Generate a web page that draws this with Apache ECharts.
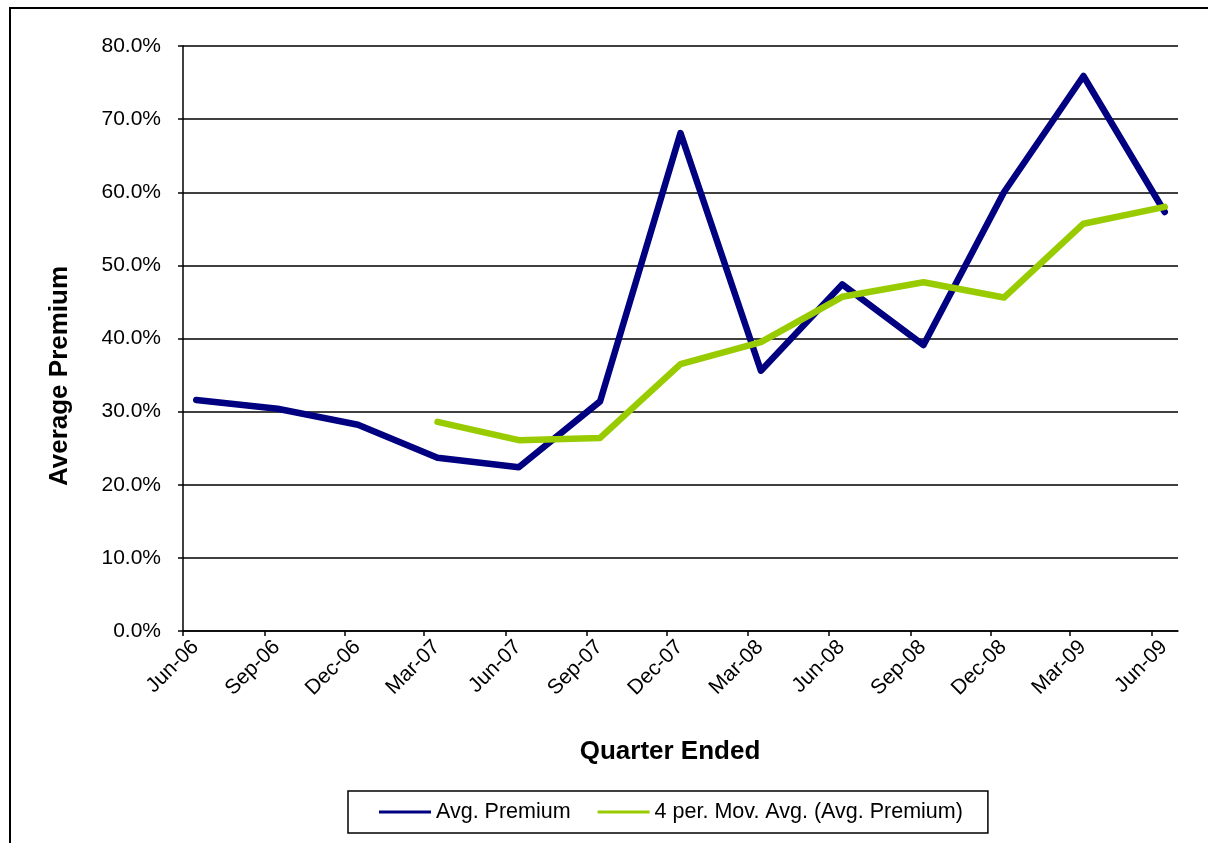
<!DOCTYPE html>
<html>
<head>
<meta charset="utf-8">
<script src="https://cdn.jsdelivr.net/npm/echarts@6/dist/echarts.min.js"></script>
<style>
html,body{margin:0;padding:0;background:#fff;}
#chart{width:1208px;height:843px;}
</style>
</head>
<body>
<div id="chart"></div>
<script>
// ---- data ----
var quarterLabels = ['Jun-06','Sep-06','Dec-06','Mar-07','Jun-07','Sep-07','Dec-07','Mar-08','Jun-08','Sep-08','Dec-08','Mar-09','Jun-09'];
var avgPremium = [31.6, 30.4, 28.2, 23.7, 22.4, 31.4, 68.1, 35.6, 47.4, 39.1, 60.0, 75.9, 57.3];
var movAvg4 = [null, null, null, 28.6, 26.1, 26.4, 36.5, 39.5, 45.7, 47.7, 45.6, 55.7, 58.0];
var yTicks = [0, 10, 20, 30, 40, 50, 60, 70, 80];
var seriesNames = ['Avg. Premium', '4 per. Mov. Avg. (Avg. Premium)'];
var xTitle = 'Quarter Ended';
var yTitle = 'Average Premium';

// ---- helpers ----
var MONTHS = ['Jan','Feb','Mar','Apr','May','Jun','Jul','Aug','Sep','Oct','Nov','Dec'];
var DAY = 86400000;
function labelToDay(lbl, day) {
  var p = lbl.split('-');
  return Math.round(Date.UTC(2000 + parseInt(p[1], 10), MONTHS.indexOf(p[0]), day) / DAY);
}
function dayToLabel(v) {
  var d = new Date(Math.round(v) * DAY);
  var yy = String(d.getUTCFullYear() % 100);
  if (yy.length < 2) yy = '0' + yy;
  return MONTHS[d.getUTCMonth()] + '-' + yy;
}
var tickDays = quarterLabels.map(function (l) { return labelToDay(l, 1); });
var labelDays = quarterLabels.map(function (l) { return labelToDay(l, 15); });
var pointDays = quarterLabels.map(function (l) { return labelToDay(l, 16); });
var lastD = new Date(tickDays[tickDays.length - 1] * DAY);
var xMin = tickDays[0];
var xMax = Math.round(Date.UTC(lastD.getUTCFullYear(), lastD.getUTCMonth() + 1, 1) / DAY);

var s1 = avgPremium.map(function (v, i) { return [pointDays[i], v / 100]; });
var s2 = [];
movAvg4.forEach(function (v, i) { if (v !== null) s2.push([pointDays[i], v / 100]); });

var FONT = 'Liberation Sans';
var chart = echarts.init(document.getElementById('chart'), null, {renderer: 'canvas'});
chart.setOption({
  backgroundColor: '#ffffff',
  animation: false,
  grid: {left: 183, right: 30, top: 46, bottom: 212, containLabel: false},
  xAxis: {
    type: 'value',
    min: xMin,
    max: xMax,
    axisLine: {show: true, onZero: false, lineStyle: {color: '#000', width: 1.5}},
    axisTick: {show: true, inside: false, length: 5, lineStyle: {color: '#000', width: 1.5}, customValues: tickDays},
    minorTick: {show: false},
    splitLine: {show: false},
    axisLabel: {
      customValues: labelDays,
      rotate: 45,
      margin: 13,
      color: '#000',
      fontFamily: FONT,
      fontSize: 21,
      formatter: function (v) { return dayToLabel(v); }
    }
  },
  yAxis: {
    type: 'value',
    min: yTicks[0] / 100,
    max: yTicks[yTicks.length - 1] / 100,
    interval: 0.1,
    axisLine: {show: true, lineStyle: {color: '#000', width: 1.5}},
    axisTick: {show: true, inside: false, length: 5, lineStyle: {color: '#000', width: 1.5}},
    splitLine: {show: true, lineStyle: {color: '#000', width: 1.5}},
    axisLabel: {
      margin: 22,
      color: '#000',
      fontFamily: FONT,
      fontSize: 21,
      formatter: function (v) { return (v * 100).toFixed(1) + '%'; }
    }
  },
  legend: {
    left: 348,
    top: 791,
    padding: [10, 25, 10, 31],
    itemGap: 27,
    itemWidth: 52,
    itemHeight: 3,
    borderColor: '#000',
    borderWidth: 1.5,
    textStyle: {color: '#000', fontFamily: FONT, fontSize: 21.5},
    data: [
      {name: seriesNames[0], icon: 'rect'},
      {name: seriesNames[1], icon: 'rect'}
    ]
  },
  graphic: [
    {
      type: 'rect',
      silent: true,
      shape: {x: 10, y: 8, width: 1400, height: 1000},
      style: {fill: null, stroke: '#000', lineWidth: 2}
    },
    {
      type: 'text',
      x: 60, y: 376,
      rotation: Math.PI / 2,
      style: {text: yTitle, font: 'bold 26px "Liberation Sans"', fill: '#000', textAlign: 'center', textVerticalAlign: 'middle'}
    },
    {
      type: 'text',
      x: 670, y: 752,
      style: {text: xTitle, font: 'bold 26px "Liberation Sans"', fill: '#000', textAlign: 'center', textVerticalAlign: 'middle'}
    }
  ],
  series: [
    {
      name: seriesNames[0],
      type: 'line',
      data: s1,
      showSymbol: false,
      symbol: 'none',
      color: '#000080',
      lineStyle: {color: '#000080', width: 6.5, join: 'round', cap: 'round'},
      z: 3
    },
    {
      name: seriesNames[1],
      type: 'line',
      data: s2,
      showSymbol: false,
      symbol: 'none',
      color: '#99CC00',
      lineStyle: {color: '#99CC00', width: 6.5, join: 'round', cap: 'round'},
      z: 4
    }
  ]
});
</script>
</body>
</html>
